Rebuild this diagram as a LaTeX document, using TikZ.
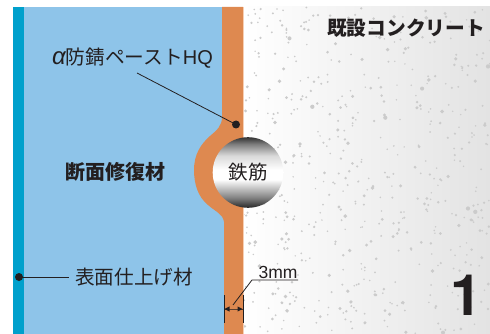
\documentclass[tikz,border=0pt]{standalone}
\usepackage{fontspec}
\setmainfont{Liberation Sans}
\newfontfamily\cjk{Noto Sans CJK JP}
\newfontfamily\lat{Liberation Sans}
\newfontfamily\heros{TeX Gyre Heros}
\definecolor{teal1}{HTML}{00A0CC}
\definecolor{blue1}{HTML}{8EC4E9}
\definecolor{orange1}{HTML}{DE8950}
\definecolor{ink}{HTML}{231F20}
\definecolor{speck}{HTML}{CBCBCB}
\definecolor{rim}{HTML}{F7CFB4}
\pgfdeclareverticalshading{steel}{100bp}{
 color(0bp)=(black!85);
 color(25bp)=(black!85);
 color(32bp)=(black!50);
 color(45bp)=(white);
 color(52bp)=(white);
 color(62bp)=(black!15);
 color(70bp)=(black!50);
 color(75bp)=(black!80);
 color(100bp)=(black!80)}
\tikzset{
 lbl/.style={font=\cjk\fontsize{#1}{#1}\selectfont,text=ink,inner sep=0pt,anchor=center},
 lead/.style={draw=ink,line width=0.8pt},
 dotn/.style={circle,fill=ink,inner sep=0pt,minimum size=8pt},
 tickline/.style={draw=ink,line width=0.9pt},
}
\begin{document}
\begin{tikzpicture}[x=1pt,y=-1pt]
\useasboundingbox (0,0) rectangle (490,334);
% concrete
\path[left color=white,right color=black!11] (243,7) rectangle (490,334);
\begin{scope}
\clip (243,7) rectangle (490,334);
\pgfmathsetseed{4242}
\foreach \i in {1,...,560}{
  \pgfmathsetmacro{\px}{243+rnd*247}
  \pgfmathsetmacro{\py}{7+rnd*327}
  \pgfmathsetmacro{\pr}{0.8+1.5*rnd*rnd}
  \fill[speck] (\px,\py) circle (\pr);
}
\end{scope}
% blue repair material
\fill[blue1] (24,7) rectangle (226,334);
% teal finish
\fill[teal1] (13,7) rectangle (24,334);
% orange paste layer
\fill[orange1] (222,7) -- (243,7) -- (243,334) -- (224,334) -- (224,222)
  .. controls (223,214) and (216,212) .. (208,205)
  .. controls (198,197) and (194,184) .. (194,170)
  .. controls (194,154) and (201,144) .. (210,136)
  .. controls (217,130) and (222,126) .. (222,117) -- cycle;
\fill[rim] (243,7) rectangle (244,334);
% rebar
\shade[shading=steel] (248,172.5) circle (35.3);
\node[lbl=19.5] (rebar) at (248,172.5) {鉄筋};
% labels
\node[lbl=19.7] (hq) at (132.5,58) {{\lat\itshape\fontsize{24}{24}\selectfont α}防錆ペースト{\lat\fontsize{20}{20}\selectfont HQ}};
\node[lbl=20,font=\cjk\bfseries\fontsize{20}{20}\selectfont] (repair) at (115,172) {断面修復材};
\node[lbl=19.6] (finish) at (134,277) {表面仕上げ材};
\node[lbl=19.7,font=\cjk\bfseries\fontsize{19.7}{19.7}\selectfont] (old) at (406,28) {既設コンクリート};
\node[font=\heros\bfseries\fontsize{57}{57}\selectfont,text=ink,inner sep=0pt] (one) at (466,295) {1};
\node[font=\fontsize{17.5}{17.5}\selectfont,text=ink,inner sep=0pt] (dim) at (278,272) {3mm};
% leaders
\node[dotn] (dotA) at (236,124.5) {};
\coordinate (hqS) at (137,73);
\draw[lead] (hqS) -- (dotA.center);
\node[dotn] (dotB) at (19,277) {};
\coordinate (finW) at (69,277);
\draw[lead] (dotB.center) -- (finW);
% dimension
\coordinate (uR) at (298,280);
\coordinate (uL) at (252,280);
\coordinate (dimP) at (233,305);
\draw[lead] (uR) -- (uL) -- (dimP);
\coordinate (t1a) at (224,295); \coordinate (t1b) at (224,323);
\coordinate (t2a) at (243,295); \coordinate (t2b) at (243,323);
\draw[tickline] (t1a) -- (t1b);
\draw[tickline] (t2a) -- (t2b);
\coordinate (a1) at (224.5,309); \coordinate (a2) at (242.5,309);
\draw[draw=ink!70!orange1,line width=0.9pt] (a1) -- (a2);
\fill[ink] (a1) -- ++(5,-2.6) -- ++(0,5.2) -- cycle;
\fill[ink] (a2) -- ++(-5,-2.6) -- ++(0,5.2) -- cycle;
\end{tikzpicture}
\end{document}
